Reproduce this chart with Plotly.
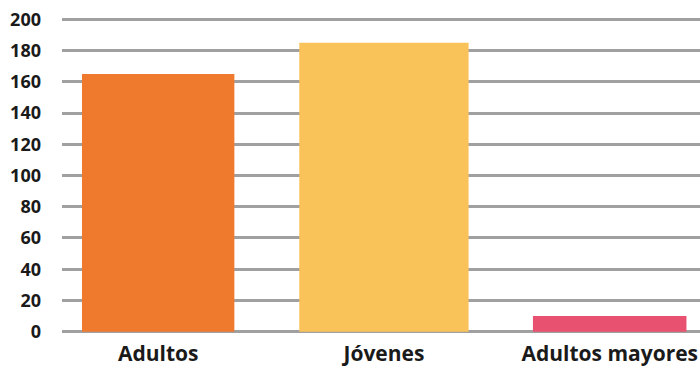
import plotly.graph_objects as go

# Grupos de edad y valores
categorias = ["Adultos", "Jóvenes", "Adultos mayores"]
valores = [165, 185, 10]
colores = ["#EF7A2E", "#FAC35A", "#E8516F"]
anchos = [0.675, 0.75, 0.68]

y_ticks = list(range(0, 201, 20))

fig = go.Figure(
    go.Bar(
        x=categorias,
        y=valores,
        width=anchos,
        marker=dict(color=colores, line=dict(width=0)),
        hoverinfo="x+y",
    )
)

font_family = "Open Sans, Noto Sans, sans-serif"

fig.update_layout(
    width=700,
    height=371,
    margin=dict(l=62, r=0, t=17, b=37),
    paper_bgcolor="white",
    plot_bgcolor="white",
    showlegend=False,
    font=dict(family=font_family, color="#1a1a1a"),
)

fig.update_xaxes(
    range=[-0.426, 2.40],
    showgrid=False,
    showline=False,
    zeroline=False,
    ticks="",
    tickfont=dict(size=21, family=font_family, weight=700, color="#1a1a1a"),
    ticklabelstandoff=5,
)

fig.update_yaxes(
    range=[-1.5, 201.5],
    tickvals=y_ticks,
    showgrid=True,
    gridcolor="#A0A0A0",
    gridwidth=3,
    zeroline=False,
    showline=False,
    ticks="",
    tickfont=dict(size=18, family=font_family, weight=700, color="#1a1a1a"),
    ticklabelstandoff=20,
)

fig.write_html("out.html")
